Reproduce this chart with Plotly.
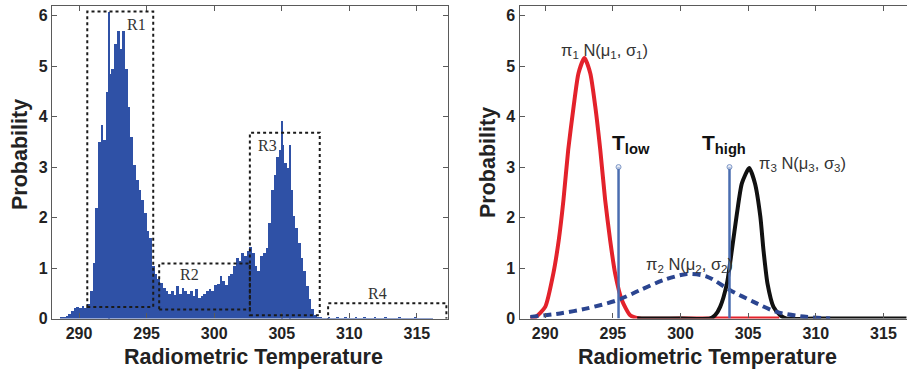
import plotly.graph_objects as go

# ---------------- data ----------------
bin_start = 288.7
bin_width = 0.2
hist_values = [
    0.02, 0.04, 0.06, 0.09, 0.15, 0.22, 0.24, 0.22, 0.25, 0.22,   # 288.7 - 290.5
    0.30, 0.55, 1.10, 2.20, 3.50, 3.85, 3.55, 4.50, 4.85, 4.95,   # 290.7 - 292.5
    5.45, 5.70, 5.35, 5.70, 4.95, 4.20, 3.60, 3.05, 2.75, 2.55,   # 292.7 - 294.5
    2.35, 2.10, 1.75, 1.60, 1.05, 0.90, 0.80, 0.72, 0.62, 0.55,   # 294.7 - 296.5
    0.50, 0.55, 0.48, 0.65, 0.50, 0.62, 0.55, 0.50, 0.55, 0.45,   # 296.7 - 298.5
    0.60, 0.42, 0.45, 0.50, 0.56, 0.60, 0.55, 0.68, 0.70, 0.85,   # 298.7 - 300.5
    0.75, 0.68, 0.85, 0.90, 1.05, 1.20, 1.15, 1.30, 1.25, 1.35,   # 300.7 - 302.5
    1.42, 1.30, 1.05, 0.95, 1.25, 1.30, 1.40, 1.90, 2.55, 2.85,   # 302.7 - 304.5
    3.20, 3.35, 3.45, 3.10, 3.00, 2.55, 2.05, 1.80, 1.50, 1.20,   # 304.7 - 306.5
    0.95, 0.65, 0.40, 0.20, 0.08, 0.03, 0.02, 0.01, 0.01, 0.02,   # 306.7 - 308.5
    0.01, 0.01, 0.02, 0.01, 0.01, 0.02, 0.01, 0.01, 0.01, 0.02,   # 308.7 - 310.5
    0.01, 0.01, 0.02, 0.01, 0.01, 0.01, 0.02, 0.01, 0.01, 0.01,   # 310.7 - 312.5
    0.02, 0.01, 0.01, 0.01, 0.01, 0.02, 0.01, 0.01, 0.01, 0.01,   # 312.7 - 314.5
    0.01, 0.02, 0.01, 0.01, 0.01, 0.01, 0.01, 0.01,               # 314.7 - 316.1
]
hist_x = [round(bin_start + i * bin_width, 2) for i in range(len(hist_values))]

spike_x = [292.24, 305.05, 305.58]
spike_y = [6.08, 3.93, 3.44]

# regions R1..R4
region_names = ["R1", "R2", "R3", "R4"]
region_x0 = [290.61, 295.93, 302.64, 308.43]
region_x1 = [295.49, 302.64, 307.81, 317.18]
region_y0 = [0.23, 0.18, 0.065, -0.07]
region_y1 = [6.08, 1.09, 3.68, 0.30]
region_label_x = [294.26, 298.2, 303.97, 312.1]
region_label_y = [5.82, 0.88, 3.42, 0.50]

# mixture components
red_x = [288.9, 289.3, 290.0, 290.6, 291.0, 291.35, 291.7, 292.1, 292.46, 292.9,
         293.33, 293.7, 294.07, 294.43, 294.8, 295.17, 295.67, 296.28, 297.0, 300.0, 304.0, 307.3]
red_y = [0.0, 0.03, 0.23, 0.89, 1.55, 2.35, 3.34, 4.20, 4.86, 5.16,
         4.86, 4.20, 3.34, 2.35, 1.55, 0.89, 0.36, 0.065, 0.0, 0.0, 0.0, 0.0]

black_x = [296.8, 300.0, 302.2, 302.56, 302.93, 303.43, 303.8, 304.17, 304.54, 305.08,
           305.5, 305.9, 306.13, 306.43, 306.87, 307.37, 307.8, 310.0, 316.7]
black_y = [0.0, 0.0, 0.0, 0.065, 0.23, 0.69, 1.36, 2.08, 2.68, 2.98,
           2.68, 2.02, 1.36, 0.69, 0.23, 0.065, 0.0, 0.0, 0.0]

blue_x = [288.9, 291.1, 293.1, 295.3, 297.0, 298.74, 300.47, 301.95, 303.67, 305.4,
          307.1, 308.85, 311.06]
blue_y = [0.03, 0.10, 0.20, 0.36, 0.56, 0.76, 0.88, 0.83, 0.56, 0.33,
          0.13, 0.045, 0.0]

t_low = 295.42
t_high = 303.62
t_height = 3.0

x_ticks = [290, 295, 300, 305, 310, 315]
y_ticks = [0, 1, 2, 3, 4, 5, 6]

# ---------------- figure ----------------
W, H = 907, 377
HIST_COLOR = "#2f51a6"
AX_COLOR = "#5a5a5a"
FONT = "Liberation Sans"

fig = go.Figure()

fig.add_trace(go.Bar(x=hist_x, y=hist_values, width=bin_width,
                     marker=dict(color=HIST_COLOR, line=dict(width=0)),
                     xaxis="x", yaxis="y", showlegend=False))
fig.add_trace(go.Bar(x=spike_x, y=spike_y, width=0.07,
                     marker=dict(color=HIST_COLOR, line=dict(width=0)),
                     xaxis="x", yaxis="y", showlegend=False))

fig.add_trace(go.Scatter(x=red_x, y=red_y, mode="lines", line=dict(color="#e3222b", width=4, shape="spline", smoothing=0.6),
                         xaxis="x2", yaxis="y2", showlegend=False))
fig.add_trace(go.Scatter(x=black_x, y=black_y, mode="lines", line=dict(color="#111111", width=4, shape="spline", smoothing=0.6),
                         xaxis="x2", yaxis="y2", showlegend=False))
fig.add_trace(go.Scatter(x=blue_x, y=blue_y, mode="lines", line=dict(color="#2b4590", width=4, dash="8px,5px", shape="spline", smoothing=0.8),
                         xaxis="x2", yaxis="y2", showlegend=False))
for tx in (t_low, t_high):
    fig.add_trace(go.Scatter(x=[tx, tx], y=[0, t_height], mode="lines+markers",
                             line=dict(color="#4a6db0", width=2.5),
                             marker=dict(size=[0, 5], color="#dfe6f3", line=dict(color="#4a6db0", width=1)),
                             xaxis="x2", yaxis="y2", showlegend=False))

axis_common = dict(showgrid=False, zeroline=False, showline=True, linecolor=AX_COLOR, linewidth=1.2,
                   ticks="inside", ticklen=5, tickcolor=AX_COLOR, automargin=False,
                   tickfont=dict(family=FONT, size=16, color="#222", weight="bold"))

y_dom = [1 - 318.5 / H, 1 - 5.5 / H]
fig.update_layout(
    width=W, height=H, margin=dict(l=0, r=0, t=0, b=0, autoexpand=False),
    paper_bgcolor="white", plot_bgcolor="white", bargap=0, barmode="overlay",
    xaxis=dict(domain=[52 / W, 448 / W], range=[288.0, 317.3], tickvals=x_ticks, mirror="ticks", anchor="y", **axis_common),
    yaxis=dict(domain=y_dom, range=[0, 6.2], tickvals=y_ticks, mirror="ticks", anchor="x", **axis_common),
    xaxis2=dict(domain=[519.5 / W, 1.0], range=[288.1, 288.1 + (W - 519.5) / 13.53], tickvals=x_ticks, mirror="ticks", anchor="y2", **axis_common),
    yaxis2=dict(domain=y_dom, range=[0, 6.2], tickvals=y_ticks, mirror=False, anchor="x2", **axis_common),
)

for name, x0, x1, y0, y1, lx, ly in zip(region_names, region_x0, region_x1, region_y0, region_y1, region_label_x, region_label_y):
    fig.add_shape(type="rect", xref="x", yref="y", x0=x0, x1=x1, y0=y0, y1=y1,
                  line=dict(color="#1a1a1a", width=2, dash="dot"), fillcolor="rgba(0,0,0,0)")
    fig.add_annotation(x=lx, y=ly, xref="x", yref="y", text=name, showarrow=False,
                       font=dict(family="Liberation Serif", size=16, color="#333"))

title_font = dict(family=FONT, size=21.5, color="#222", weight="bold")
for tx, ty, txt, ang in [(253, 357, "Radiometric Temperature", 0), (707, 357, "Radiometric Temperature", 0),
                         (20, 155, "Probability", -90), (488, 162, "Probability", -90)]:
    fig.add_annotation(x=tx / W, y=1 - ty / H, xref="paper", yref="paper", text=txt, textangle=ang,
                       xanchor="center", yanchor="middle", showarrow=False, font=title_font)

comp_font = dict(family=FONT, size=16.5, color="#333")
fig.add_annotation(x=294.4, y=5.3, xref="x2", yref="y2", showarrow=False, font=comp_font,
                   text="π<sub>1</sub> N(μ<sub>1</sub>, σ<sub>1</sub>)")
fig.add_annotation(x=300.7, y=1.06, xref="x2", yref="y2", showarrow=False, font=comp_font,
                   text="π<sub>2</sub> N(μ<sub>2</sub>, σ<sub>2</sub>)")
fig.add_annotation(x=309.0, y=3.06, xref="x2", yref="y2", showarrow=False, font=comp_font,
                   text="π<sub>3</sub> N(μ<sub>3</sub>, σ<sub>3</sub>)")

t_font = dict(family=FONT, size=21, color="#111", weight="bold")
fig.add_annotation(x=294.82, y=3.46, xref="x2", yref="y2", showarrow=False, font=t_font, xanchor="left",
                   text="T<sub>low</sub>")
fig.add_annotation(x=301.45, y=3.46, xref="x2", yref="y2", showarrow=False, font=t_font, xanchor="left",
                   text="T<sub>high</sub>")

fig.write_html("out.html", post_script="document.body.style.margin='0px';",
               config={"displayModeBar": False})
